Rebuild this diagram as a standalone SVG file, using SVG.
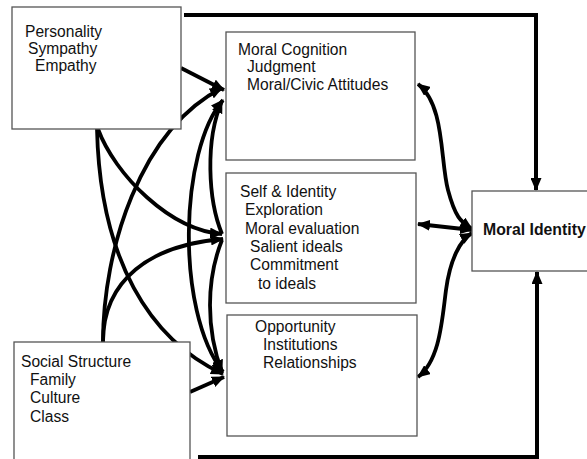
<svg xmlns="http://www.w3.org/2000/svg" width="587" height="459" viewBox="0 0 587 459">
<style>
.box{fill:#fff;stroke:#555;stroke-width:1.3}
.t{font-family:"Liberation Sans",Arial,sans-serif;font-size:15.6px;fill:#111}
.b{font-weight:bold;font-size:15.8px}
.c{fill:none;stroke:#000;stroke-width:3.8}
.one{marker-end:url(#ah)}
.two{marker-start:url(#ah);marker-end:url(#ah)}
.thick{fill:none;stroke:#000;stroke-width:4;marker-end:url(#ah)}
</style>
<defs>
<marker id="ah" markerUnits="userSpaceOnUse" markerWidth="13" markerHeight="11" refX="12" refY="5.5" orient="auto-start-reverse">
<path d="M0,0 L13,5.5 L0,11 z" fill="#000"/>
</marker>
</defs>
<rect width="587" height="459" fill="#fff"/>
<g id="connectors">
<path class="c one" d="M181,68 L224,90"/>
<path class="c one" d="M98,129 C115,175 170,230 222,234"/>
<path class="c one" d="M97,129 C100,260 150,340 223,374"/>
<path class="c one" d="M103,342 C103,250 140,130 222,88"/>
<path class="c one" d="M103,342 C103,280 150,245 223,239"/>
<path class="c one" d="M190,392 L224,377"/>
<path class="c two" d="M223,100 C180,150 175,310 223,372"/>
<path class="c one" d="M222,234 C208,200 205,140 222,101"/>
<path class="c one" d="M222,240 C206,280 206,330 222,372"/>
<path class="c two" d="M418,84 C445,105 440,160 448,190 S462,222 472,229"/>
<path class="c two" d="M418,224 L472,230"/>
<path class="c two" d="M418,377 C440,360 442,320 446,290 S460,240 472,233"/>
<path class="thick" d="M184,15 H536 V190"/>
<path class="thick" d="M198,457 H537 V272"/>
</g>
<g id="personality">
<rect class="box" x="12" y="7" width="169" height="122"/>
<text class="t" x="25" y="37">Personality</text>
<text class="t" x="28" y="54">Sympathy</text>
<text class="t" x="35" y="71">Empathy</text>
</g>
<g id="social">
<rect class="box" x="14" y="342" width="176" height="140"/>
<text class="t" x="21" y="367">Social Structure</text>
<text class="t" x="30" y="385">Family</text>
<text class="t" x="30" y="403">Culture</text>
<text class="t" x="30" y="422">Class</text>
</g>
<g id="cognition">
<rect class="box" x="226" y="32" width="189" height="128"/>
<text class="t" x="238" y="55">Moral Cognition</text>
<text class="t" x="247" y="72">Judgment</text>
<text class="t" x="247" y="90">Moral/Civic Attitudes</text>
</g>
<g id="self">
<rect class="box" x="226" y="173" width="190" height="130"/>
<text class="t" x="240" y="197">Self &amp; Identity</text>
<text class="t" x="245" y="215">Exploration</text>
<text class="t" x="245" y="234">Moral evaluation</text>
<text class="t" x="250" y="252">Salient ideals</text>
<text class="t" x="250" y="270">Commitment</text>
<text class="t" x="258" y="289">to ideals</text>
</g>
<g id="opportunity">
<rect class="box" x="227" y="315" width="190" height="121"/>
<text class="t" x="255" y="332">Opportunity</text>
<text class="t" x="263" y="350">Institutions</text>
<text class="t" x="263" y="368">Relationships</text>
</g>
<g id="moral-identity">
<rect class="box" x="472" y="191" width="130" height="80"/>
<text class="t b" x="483" y="235">Moral Identity</text>
</g>
</svg>
